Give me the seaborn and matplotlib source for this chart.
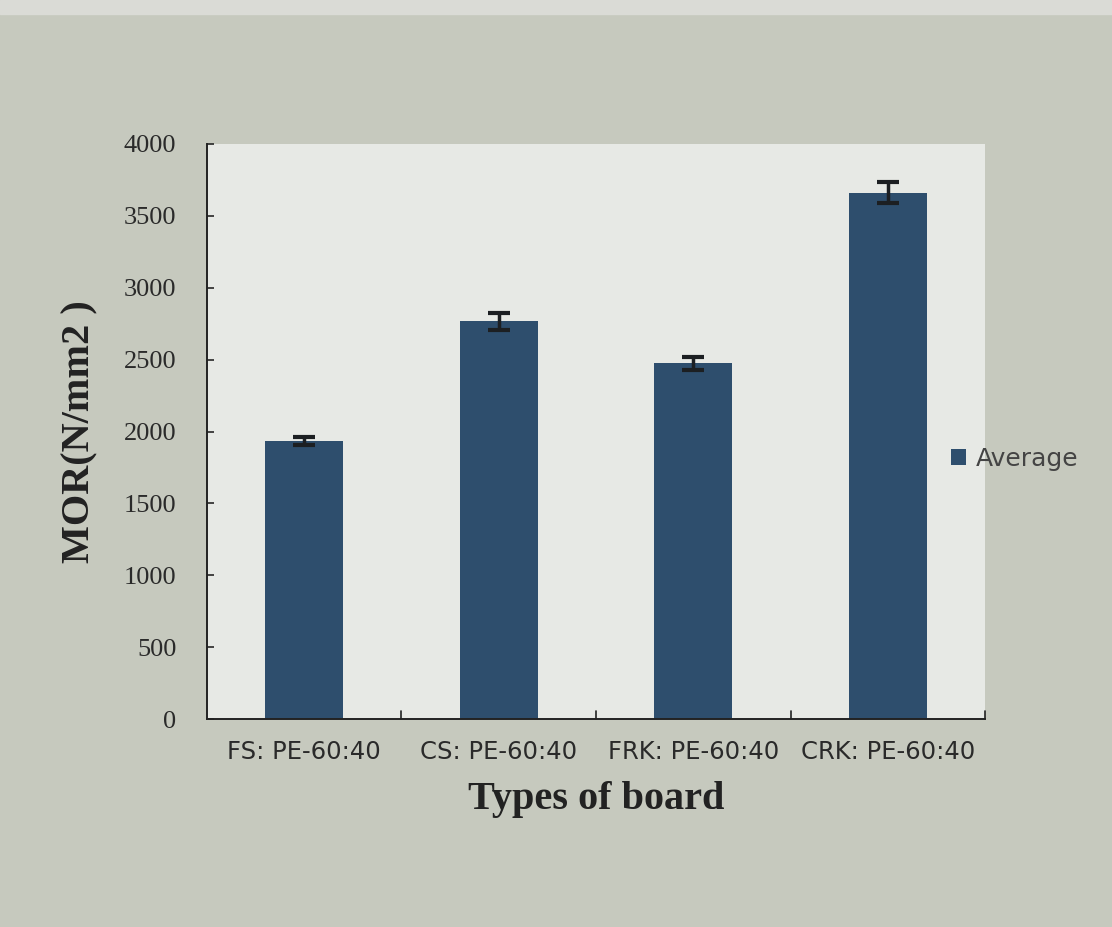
import matplotlib
matplotlib.use("Agg")
import matplotlib.pyplot as plt
import seaborn as sns
import pandas as pd
from matplotlib.patches import Rectangle

# --- Data ---
boards = ["FS: PE-60:40", "CS: PE-60:40", "FRK: PE-60:40", "CRK: PE-60:40"]
mor_avg = [1935, 2765, 2475, 3660]
mor_err = [30, 60, 45, 75]

df = pd.DataFrame({"Board": boards, "MOR": mor_avg})

sns.set_style("ticks")
bar_color = "#2e4e6d"

fig = plt.figure(figsize=(11.12, 9.27), dpi=100, facecolor="#c6c9be")
# lighter strip at the top of the photographed page
fig.patches.append(Rectangle((0, 0.985), 1, 0.015, transform=fig.transFigure,
                             color="#dadbd6", zorder=0))

ax = fig.add_axes([0.186, 0.224, 0.700, 0.621])
ax.set_facecolor("#e7e9e5")

sns.barplot(data=df, x="Board", y="MOR", color=bar_color, width=0.4,
            saturation=1, linewidth=0, ax=ax, label="Average")
ax.errorbar(range(len(boards)), mor_avg, yerr=mor_err, fmt="none",
            ecolor="#1c1f22", elinewidth=2.5, capsize=8, capthick=3)

ax.set_ylim(0, 4000)
ax.set_xlim(-0.5, len(boards) - 0.5)
ax.set_yticks(range(0, 4001, 500))
ax.set_yticklabels([str(v) for v in range(0, 4001, 500)],
                   family="Liberation Serif", fontsize=19, color="#2a2a2a")
ax.set_xticks(range(len(boards)))
ax.set_xticklabels(boards, family="DejaVu Sans", fontsize=17.5, color="#2a2a2a")
ax.tick_params(axis="x", length=0, pad=15)
ax.tick_params(axis="y", direction="in", length=5, width=1.2, pad=22)
# category boundary ticks on the x axis
for b in [0.5, 1.5, 2.5, 3.5]:
    ax.plot([b, b], [0, 60], color="#222222", lw=1.2, clip_on=False)

for s in ["top", "right"]:
    ax.spines[s].set_visible(False)
for s in ["left", "bottom"]:
    ax.spines[s].set_color("#222222")
    ax.spines[s].set_linewidth(1.4)

ax.set_xlabel("Types of board", family="Liberation Serif", fontsize=29,
              fontweight="bold", color="#222222", labelpad=12)
ax.set_ylabel("MOR(N/mm2 )", family="Liberation Serif", fontsize=29,
              fontweight="bold", color="#222222", labelpad=18)

# legend outside to the right, like the spreadsheet chart
handles, labels = ax.get_legend_handles_labels()
if ax.get_legend() is not None:
    ax.get_legend().remove()
leg = fig.legend(handles[:1], labels[:1], loc="center left",
                 bbox_to_anchor=(0.835, 0.505), frameon=False,
                 handlelength=0.6, handleheight=0.6, handletextpad=0.4,
                 prop={"family": "DejaVu Sans", "size": 18})
for t in leg.get_texts():
    t.set_color("#444444")

plt.savefig("out.png", dpi=100, facecolor=fig.get_facecolor())
plt.close()
